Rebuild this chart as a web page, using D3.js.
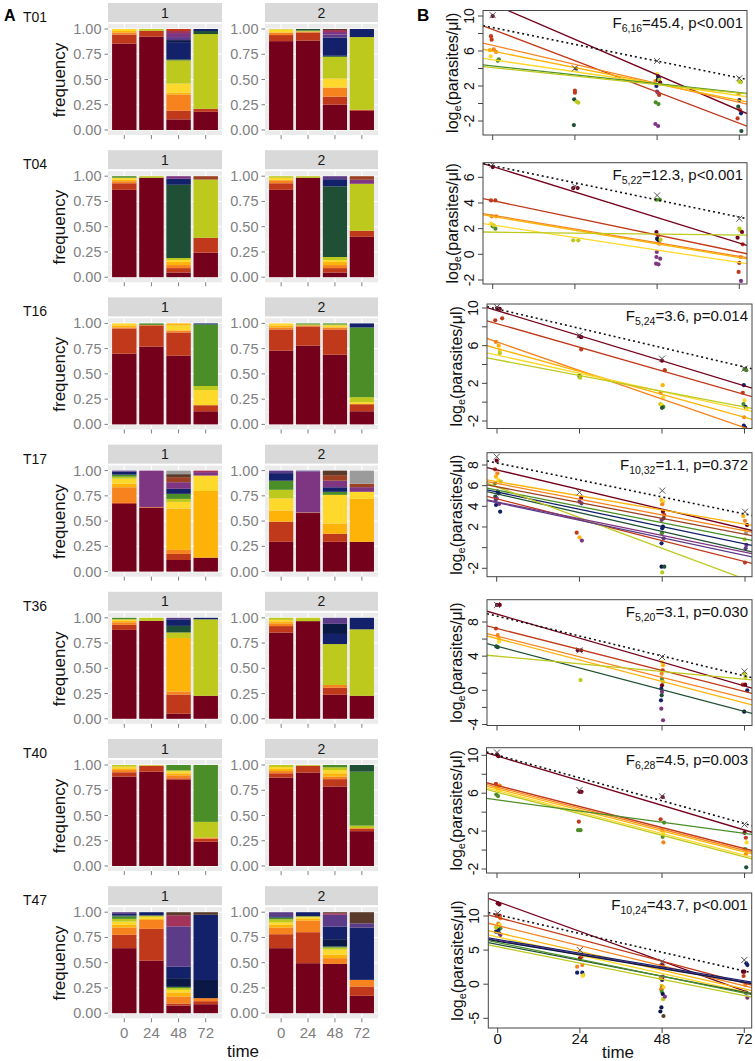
<!DOCTYPE html>
<html><head><meta charset="utf-8">
<script src="https://cdn.jsdelivr.net/npm/d3@7/dist/d3.min.js"></script>
<style>body{margin:0;background:#fff} svg{display:block;font-family:"Liberation Sans",Arial,sans-serif}</style>
</head><body><svg id="c" width="755" height="1061"></svg>
<script>
// ---------------- DATA ----------------
const trials = ["T01","T04","T16","T17","T36","T40","T47"];
const times = [0,24,48,72];
const replicates = ["1","2"];
const cloneColor = {dr:"#75001b", rd:"#c0391a", or:"#f6831e", am:"#feb308", ye:"#fed82b", yg:"#bdc91c",
  gr:"#4b8e27", dg:"#1f5035", nv:"#13206a", dn:"#0a1846", pu:"#7e3582", vi:"#5c3b88", cr:"#a3335b",
  br:"#5a3b2b", rb:"#9c4124", gy:"#9b9b9b"};

// Panel A: clone frequencies, 8 bars per trial (rep1 t0..t72, rep2 t0..t72), segments bottom-up
const freqT01 = [
 [["dr",.855],["rd",.09],["or",.02],["am",.015],["ye",.02]],
 [["dr",.924],["rd",.059],["yg",.017]],
 [["dr",.105],["rd",.085],["or",.16],["am",.02],["ye",.09],["yg",.23],["dg",.01],["nv",.17],["dn",.02],["vi",.03],["pu",.04],["cr",.02],["rd",.02]],
 [["dr",.18],["rd",.03],["yg",.74],["dg",.03],["nv",.02]],
 [["dr",.88],["rd",.06],["or",.025],["ye",.03],["yg",.005]],
 [["dr",.885],["rd",.08],["or",.01],["yg",.01],["dg",.015]],
 [["dr",.25],["rd",.08],["or",.09],["ye",.09],["yg",.215],["dg",.01],["nv",.18],["vi",.03],["pu",.025],["cr",.02],["br",.01]],
 [["dr",.19],["rd",.01],["yg",.72],["nv",.08]]
];
const freqT04 = [
 [["dr",.865],["rd",.065],["or",.02],["am",.015],["ye",.02],["gr",.015]],
 [["dr",.985],["yg",.015]],
 [["dr",.046],["rd",.044],["or",.03],["am",.03],["ye",.02],["yg",.02],["dg",.725],["nv",.06],["pu",.025]],
 [["dr",.243],["rd",.147],["yg",.577],["rb",.033]],
 [["dr",.865],["rd",.065],["or",.03],["ye",.025],["yg",.015]],
 [["dr",.985],["yg",.015]],
 [["dr",.046],["rd",.044],["or",.03],["am",.03],["ye",.02],["yg",.03],["dg",.70],["nv",.07],["vi",.03]],
 [["dr",.40],["rd",.06],["yg",.465],["pu",.04],["rb",.035]]
];
const freqT16 = [
 [["dr",.70],["rd",.25],["or",.01],["am",.02],["ye",.02]],
 [["dr",.77],["rd",.21],["or",.005],["gr",.015]],
 [["dr",.68],["rd",.23],["or",.02],["ye",.05],["am",.02]],
 [["dr",.13],["rd",.06],["ye",.15],["yg",.04],["gr",.61],["nv",.01]],
 [["dr",.73],["rd",.21],["or",.02],["am",.02],["ye",.02]],
 [["dr",.78],["rd",.19],["or",.01],["yg",.01],["gr",.01]],
 [["dr",.69],["rd",.25],["or",.02],["ye",.02],["yg",.01],["gr",.01]],
 [["dr",.13],["rd",.07],["ye",.02],["yg",.05],["gr",.69],["nv",.04]]
];
const freqT17 = [
 [["dr",.67],["rd",.01],["or",.155],["am",.035],["ye",.05],["yg",.02],["gr",.02],["nv",.03],["vi",.01]],
 [["dr",.635],["or",.005],["pu",.36]],
 [["dr",.115],["rd",.06],["or",.04],["am",.41],["ye",.065],["yg",.03],["gr",.05],["nv",.05],["pu",.065],["rb",.05],["br",.03],["gy",.035]],
 [["dr",.138],["am",.66],["ye",.153],["pu",.034],["cr",.015]],
 [["dr",.295],["rd",.2],["am",.11],["ye",.12],["yg",.085],["gr",.09],["nv",.075],["vi",.025]],
 [["dr",.58],["or",.005],["pu",.405],["vi",.01]],
 [["dr",.295],["rd",.08],["am",.1],["ye",.285],["gr",.03],["nv",.045],["pu",.065],["rb",.055],["br",.045]],
 [["dr",.295],["am",.425],["ye",.07],["pu",.046],["rb",.034],["gy",.13]]
];
const freqT36 = [
 [["dr",.88],["rd",.05],["or",.025],["am",.015],["ye",.015],["gr",.015]],
 [["dr",.97],["yg",.03]],
 [["dr",.05],["rd",.19],["or",.03],["am",.53],["yg",.055],["dg",.065],["nv",.065],["vi",.015]],
 [["dr",.228],["yg",.757],["nv",.015]],
 [["dr",.853],["rd",.065],["or",.027],["am",.02],["ye",.015],["yg",.02]],
 [["dr",.967],["yg",.033]],
 [["dr",.238],["rd",.07],["or",.027],["yg",.405],["nv",.1],["dn",.1],["vi",.06]],
 [["dr",.228],["yg",.658],["nv",.114]]
];
const freqT40 = [
 [["dr",.885],["rd",.043],["or",.022],["am",.017],["ye",.017],["yg",.016]],
 [["dr",.934],["rd",.056],["or",.005],["yg",.005]],
 [["dr",.853],["rd",.015],["or",.03],["am",.02],["ye",.02],["yg",.01],["gr",.052]],
 [["dr",.24],["rd",.03],["or",.012],["yg",.155],["gr",.563]],
 [["dr",.875],["rd",.043],["or",.022],["am",.02],["ye",.02],["yg",.02]],
 [["dr",.925],["rd",.068],["yg",.007]],
 [["dr",.787],["rd",.073],["or",.025],["am",.033],["ye",.032],["yg",.027],["gr",.023]],
 [["dr",.345],["rd",.022],["or",.008],["yg",.025],["gr",.534],["dg",.066]]
];
const freqT47 = [
 [["dr",.644],["rd",.132],["or",.072],["am",.027],["ye",.033],["yg",.026],["gr",.023],["dg",.01],["nv",.016],["vi",.017]],
 [["dr",.52],["rd",.315],["or",.089],["am",.01],["ye",.02],["yg",.013],["nv",.033]],
 [["dr",.076],["rd",.02],["or",.07],["am",.04],["ye",.025],["yg",.018],["gr",.012],["dn",.086],["nv",.113],["vi",.4],["cr",.11],["br",.03]],
 [["dr",.089],["rd",.03],["or",.03],["dn",.18],["nv",.645],["br",.026]],
 [["dr",.644],["rd",.138],["or",.066],["am",.027],["ye",.025],["yg",.03],["gr",.017],["nv",.013],["vi",.04]],
 [["dr",.495],["rd",.307],["or",.115],["am",.017],["ye",.016],["yg",.01],["nv",.04]],
 [["dr",.488],["or",.057],["am",.035],["ye",.05],["yg",.02],["gr",.01],["dn",.073],["nv",.125],["vi",.116],["cr",.016],["br",.01]],
 [["dr",.172],["rd",.092],["or",.066],["nv",.518],["vi",.042],["br",.11]]
];

// Panel B: clone regression lines [clone, log value at 0 h, log value at 72 h]
const linesT01 = [["dr",11.38,-0.77],["rd",8.46,-2.25],["or",6.64,0.13],["am",5.98,0.37],["ye",5.0,0.9],["gr",4.29,1.25],["yg",4.1,1.18]];
const linesT04 = [["dr",6.84,0.88],["rd",4.18,0.17],["or",3.04,-0.16],["am",2.95,-0.25],["ye",2.28,-0.64],["yg",1.73,1.5]];
const linesT16 = [["dr",9.73,1.73],["rd",8.34,0.82],["or",6.4,-2.7],["am",5.7,-1.6],["ye",5.0,-0.8],["yg",4.5,-0.5]];
const linesT17 = [["dr",7.53,1.82],["am",6.4,2.27],["or",6.22,1.63],["rd",4.73,-1.35],["gr",5.57,0.83],["dg",5.21,-0.26],["nv",5.39,0.36],["yg",5.89,-3.05],["pu",4.43,-0.44],["vi",4.36,-0.76],["rb",5.9,1.3]];
const linesT36 = [["dr",8.92,0.5],["rd",7.24,-0.13],["or",6.34,-0.9],["am",6.06,-1.48],["dg",5.16,-2.46],["yg",4.0,1.3]];
const linesT40 = [["dr",9.93,2.11],["rd",6.82,0.15],["or",6.64,-0.03],["am",6.47,-0.2],["ye",6.28,-0.55],["yg",6.11,-0.73],["gr",5.3,1.77]];
const linesT47 = [["dr",12.1,-1.0],["rd",9.79,0.16],["or",8.6,-0.23],["am",7.55,-0.7],["ye",6.92,-1.1],["nv",6.55,0.5],["vi",6.4,0.35],["dn",6.3,0.25],["dg",5.83,-1.18],["gr",6.1,-1.3],["yg",5.48,-1.68]];

// total parasitaemia: dotted regression [v0, v72] and "x" marks at 0,24,48,72 h
const totalLine = [[8.67,2.93],[6.91,2.9],[9.9,3.73],[8.2,3.25],[8.69,1.69],[10.03,2.79],[10.18,1.93]];
const totalMarks = [[10.1,4.02,4.86,2.88],[7.0,5.3,4.59,2.78],[10.1,7.1,4.62,3.56],[8.8,5.35,5.52,3.48],[10.0,4.68,3.9,2.22],[10.3,6.32,5.68,2.7],[10.4,5.0,3.3,3.55]];

// clone points [time (jittered), log value, clone]
const pointsT01 = [[0,10,"dr"],[-0.5,7.7,"rd"],[-0.3,7.3,"rd"],[0.3,6.2,"or"],[1,5.9,"or"],[-0.6,5.4,"ye"],[1.8,5.05,"gr"],[1.5,4.9,"gr"],[-0.8,6.1,"am"],
 [24,1.47,"rd"],[24,1.24,"rd"],[23.8,0.48,"dg"],[24.5,0.2,"yg"],[25,0.1,"yg"],[23.7,-2.46,"dg"],[24.3,4.0,"br"],
 [48,3.37,"ye"],[47.5,2.57,"or"],[48.3,3.1,"dn"],[48.5,2.9,"nv"],[48.2,2.7,"dn"],[47.8,2.0,"nv"],[48,1.35,"pu"],[48.4,1.16,"pu"],[48.6,0.97,"rd"],[47.6,0.13,"gr"],[48.4,-0.06,"gr"],[47.5,-2.34,"pu"],[48.3,-2.57,"pu"],[48.6,2.7,"yg"],[48.9,2.38,"dr"],
 [72,2.5,"yg"],[72.5,2.45,"yg"],[71.8,1.09,"or"],[72,0.4,"nv"],[71.7,-0.36,"dg"],[72.2,-0.74,"rd"],[72.5,-1.12,"nv"],[71.5,-1.7,"rd"],[72.6,-3.14,"dg"]];
const pointsT04 = [[0,6.8,"dr"],[-0.5,4.2,"rd"],[0.8,4.2,"rd"],[-0.3,2.96,"or"],[1,2.96,"or"],[-0.5,2.39,"ye"],[0,2.18,"gr"],[0.8,2.0,"gr"],[0.3,2.26,"yg"],
 [23.5,5.16,"dr"],[24.8,5.16,"dr"],[23.5,1.09,"yg"],[25,1.09,"yg"],
 [47.8,4.25,"gr"],[48.8,4.25,"gr"],[47.8,1.74,"dr"],[48.3,1.48,"rd"],[48,1.22,"nv"],[48.5,1.1,"nv"],[48.2,1.15,"dn"],[48.6,0.83,"or"],[49,1.14,"yg"],[47.9,0.18,"pu"],[47.8,-0.21,"pu"],[48.9,-0.34,"pu"],[47.7,-0.73,"pu"],[48.4,-0.78,"pu"],
 [72,2.0,"yg"],[72.3,1.87,"yg"],[71.5,1.3,"dr"],[72.8,1.74,"dr"],[73,0.78,"rd"],[72.4,-0.21,"or"],[72,-0.67,"rd"],[71.8,-1.37,"rd"],[72.5,-2.07,"pu"]];
const pointsT16 = [[0,10.0,"dr"],[0.8,9.9,"dr"],[-0.5,8.7,"rd"],[1.5,8.9,"rd"],[-0.3,6.4,"or"],[0.5,6.0,"am"],[0.8,5.5,"ye"],[0.8,5.2,"yg"],
 [24,7.0,"dr"],[24.5,6.9,"dr"],[24.5,5.6,"rd"],[24,2.85,"gr"],[24,2.7,"gr"],[24.2,2.6,"yg"],
 [48,4.4,"dr"],[48.8,3.4,"rd"],[48.2,1.8,"am"],[47.6,1.0,"or"],[48.3,0.5,"ye"],[47.5,-0.2,"yg"],[48,-0.3,"ye"],[48.4,-0.5,"gr"],[48,-0.6,"dg"],
 [72,3.5,"gr"],[72.5,3.4,"gr"],[71.8,1.8,"nv"],[71.5,1.0,"rd"],[72,0.2,"ye"],[71.7,-0.2,"gr"],[72.3,-0.5,"nv"],[72.6,-0.7,"ye"],[71.9,-1.6,"or"],[71.8,-2.5,"nv"],[72.2,-2.7,"nv"]];
const pointsT17 = [[0,8.42,"dr"],[-0.5,7.58,"rd"],[0.2,7.2,"or"],[-0.2,6.87,"am"],[0.5,6.55,"ye"],[1.2,6.39,"yg"],[-0.5,6.23,"gr"],[0.3,5.42,"dn"],[0.5,5.26,"nv"],[-0.4,4.94,"dg"],[0,4.77,"pu"],[-0.3,4.61,"vi"],[0.7,4.23,"pu"],[-0.2,4.13,"nv"],[1,3.48,"nv"],
 [24.5,4.84,"dr"],[24,4.45,"pu"],[24.6,4.29,"vi"],[23.2,1.45,"rd"],[24,1.0,"am"],[24.7,0.68,"pu"],
 [47.8,4.6,"am"],[48.3,4.45,"ye"],[48,4.2,"or"],[48.2,3.48,"dr"],[48.6,3.16,"rd"],[48.4,2.84,"br"],[47.8,2.68,"pu"],[48.2,2.03,"dn"],[48,1.87,"nv"],[47.9,1.39,"gr"],[48.4,0.9,"pu"],[47.8,0.42,"nv"],[47.8,-1.84,"dn"],[48.6,-1.84,"dg"],[48,-2.4,"yg"],
 [71.5,3.06,"am"],[72,2.6,"or"],[72.6,2.19,"dr"],[72,1.7,"ye"],[72.3,1.39,"gy"],[71.9,0.8,"yg"],[72.4,0.26,"pu"],[72.2,-0.06,"vi"],[72,-1.45,"rd"]];
const pointsT36 = [[0,10,"dr"],[0.8,10,"dr"],[-0.3,7.24,"rd"],[0.2,6.48,"or"],[0.5,6.1,"am"],[0.6,5.7,"ye"],[-0.2,5.14,"dg"],[0.2,5.05,"dg"],
 [23.5,4.68,"dr"],[24.5,4.68,"dr"],[24.3,1.2,"yg"],
 [48,3.31,"ye"],[48.3,2.93,"am"],[48.2,2.34,"rd"],[47.9,1.95,"or"],[48,1.37,"gr"],[48.3,0.98,"yg"],[48,0.59,"dr"],[47.8,0.2,"nv"],[48,-0.19,"pu"],[47.9,-0.58,"dg"],[47.7,-1.17,"nv"],[47.8,-2.15,"pu"],[48.3,-3.5,"pu"],
 [72,1.95,"yg"],[72.3,1.56,"yg"],[71.5,0.66,"rd"],[72.2,0.66,"dr"],[72.8,0.0,"nv"],[71.9,-2.5,"dn"]];
const pointsT40 = [[0,10.1,"dr"],[0.4,9.9,"dr"],[-0.3,7.0,"rd"],[0.8,6.8,"or"],[0,6.55,"am"],[0.6,6.3,"ye"],[-0.2,5.85,"gr"],[0.3,5.7,"gr"],
 [24,6.14,"dr"],[24.6,6.14,"dr"],[23.8,3.0,"rd"],[23.6,2.1,"gr"],[24.3,2.1,"gr"],
 [48.2,5.6,"dr"],[47.6,3.25,"rd"],[48.6,2.9,"gr"],[48,2.1,"or"],[48.4,1.75,"ye"],[48.2,1.4,"gr"],[48.4,0.8,"or"],
 [72,1.82,"dr"],[72.4,1.3,"rd"],[72.6,0.8,"ye"],[72.2,0.1,"gr"],[72.4,-0.45,"or"],[72.6,-0.1,"am"],[72.5,-1.82,"dg"]];
const pointsT47 = [[0,11.86,"dr"],[0.5,11.7,"dr"],[-0.3,10.15,"rd"],[0.6,10.05,"rd"],[0.8,9.66,"or"],[0.2,8.9,"or"],[0.6,8.7,"ye"],[-0.3,8.4,"am"],[0.8,8.2,"gr"],[-0.5,7.7,"dn"],[0.8,7.2,"pu"],[0.5,7.46,"vi"],[0.2,7.95,"nv"],[-0.5,8.3,"yg"],
 [24,3.8,"dr"],[24.5,4.04,"rd"],[23.2,2.57,"or"],[24.7,2.8,"or"],[23.2,1.69,"nv"],[24.7,1.69,"nv"],[25,1.35,"yg"],[24.8,1.2,"ye"],
 [48,2.81,"dr"],[48.3,2.57,"rd"],[48.2,1.1,"pu"],[48,0.62,"nv"],[47.6,0.86,"or"],[47.9,-0.26,"am"],[48.2,-0.46,"gr"],[48,-0.6,"dg"],[48.4,-0.46,"ye"],[47.7,-0.75,"or"],[47.9,-1.1,"gr"],[48.2,-1.44,"dn"],[48.3,-2.2,"yg"],[48.8,-1.83,"pu"],[47.8,-3.4,"dn"],[47.5,-4.0,"dn"],[48.4,-4.66,"br"],
 [72.6,3.06,"nv"],[72.9,2.8,"nv"],[71.6,1.84,"dr"],[72,1.84,"dr"],[71.8,1.2,"rd"],[72.3,-0.12,"or"],[72.5,-1.24,"dn"],[72.9,-1.97,"pu"]];

// F statistics [df, F, p]
const fStats = [["6,16","45.4","p<0.001"],["5,22","12.3","p<0.001"],["5,24","3.6","p=0.014"],["10,32","1.1","p=0.372"],["5,20","3.1","p=0.030"],["6,28","4.5","p=0.003"],["10,24","43.7","p<0.001"]];
// y tick values and labelled ticks for panel B
const bTicks = [[-2,0,2,4,6,8,10],[-2,0,2,4,6],[-2,0,2,4,6,8,10],[-2,0,2,4,6,8],[-4,-2,0,2,4,6,8],[-2,0,2,4,6,8,10],[-5,0,5,10]];
const bTickLabels = [[10,6,2,-2],[6,4,2,0,-2],[10,6,2,-2],[8,6,4,2,-2],[8,4,0,-4],[10,6,2,-2],[10,5,0,-5]];

const freqs = [freqT01,freqT04,freqT16,freqT17,freqT36,freqT40,freqT47];
const lines = [linesT01,linesT04,linesT16,linesT17,linesT36,linesT40,linesT47];
const points = [pointsT01,pointsT04,pointsT16,pointsT17,pointsT36,pointsT40,pointsT47];

// ---------------- LAYOUT ----------------
const rowH = 147.2;
const panelAX = [[108,222],[265,378]];
// panel B boxes: left,right, x(0),x(72), top,bottom, [value,px],[value,px]
const boxB = [
 {l:483,r:747,x0:492.7,x72:739.3,t:10.5,b:135,ya:[10,16],yb:[-2,121]},
 {l:483,r:747,x0:492.7,x72:739.3,t:162.7,b:284,ya:[6,177.3],yb:[-2,280]},
 {l:487,r:752,x0:497,x72:744.5,t:304,b:428.5,ya:[10,308],yb:[-2,421]},
 {l:487,r:752,x0:496.7,x72:745,t:452.7,b:576.7,ya:[8,465],yb:[-2,568.3]},
 {l:487,r:752,x0:497,x72:744.5,t:599.7,b:725.5,ya:[8,622],yb:[-4,724.5]},
 {l:486.5,r:752,x0:497,x72:744.5,t:747.7,b:873,ya:[10,755.3],yb:[-2,869]},
 {l:488.3,r:751.7,x0:497.7,x72:744.3,t:893,b:1028,ya:[10,916],yb:[-5,1018.3]}
];

const svg = d3.select("#c");
const defs = svg.append("defs");
const grey = "#7f7f7f";

svg.append("text").attr("x",4).attr("y",21).attr("font-size",16).attr("font-weight","bold").text("A");
svg.append("text").attr("x",417).attr("y",21).attr("font-size",17).attr("font-weight","bold").text("B");

trials.forEach((trial, r) => {
  const off = r*rowH;
  const y = d3.scaleLinear().domain([0,1]).range([130+off, 29+off]);
  svg.append("text").attr("x",23).attr("y",22+off).attr("font-size",14).attr("fill","#111").text(trial);
  svg.append("text").attr("transform",`translate(65,${80+off}) rotate(-90)`).attr("text-anchor","middle")
     .attr("font-size",17).attr("fill","#111").text("frequency");

  replicates.forEach((rep, k) => {
    const [x0,x1] = panelAX[k];
    const x = d3.scaleBand().domain(times).range([x0,x1]).paddingInner(0.1).paddingOuter(0.15);
    const g = svg.append("g");
    g.append("rect").attr("x",x0).attr("y",3+off).attr("width",x1-x0).attr("height",19).attr("fill","#d9d9d9");
    g.append("text").attr("x",(x0+x1)/2).attr("y",17.5+off).attr("text-anchor","middle").attr("font-size",14).attr("fill","#1a1a1a").text(rep);
    const pTop = y(1.05), pBot = y(-0.05);
    g.append("rect").attr("x",x0).attr("y",pTop).attr("width",x1-x0).attr("height",pBot-pTop).attr("fill","#ebebeb");
    [0.125,0.375,0.625,0.875].forEach(v => g.append("line").attr("x1",x0).attr("x2",x1).attr("y1",y(v)).attr("y2",y(v)).attr("stroke","#f5f5f5").attr("stroke-width",0.6));
    [0,0.25,0.5,0.75,1].forEach(v => g.append("line").attr("x1",x0).attr("x2",x1).attr("y1",y(v)).attr("y2",y(v)).attr("stroke","#fff").attr("stroke-width",1.1));
    times.forEach(t => {
      const cx = x(t)+x.bandwidth()/2;
      g.append("line").attr("x1",cx).attr("x2",cx).attr("y1",pTop).attr("y2",pBot).attr("stroke","#fff").attr("stroke-width",1.1);
      g.append("line").attr("x1",cx).attr("x2",cx).attr("y1",pBot).attr("y2",pBot+4).attr("stroke",grey).attr("stroke-width",1);
    });
    times.forEach((t,i) => {
      let cum = 0;
      freqs[r][k*4+i].forEach(([c,f]) => {
        g.append("rect").attr("x",x(t)).attr("width",x.bandwidth())
         .attr("y",y(cum+f)).attr("height",y(cum)-y(cum+f)).attr("fill",cloneColor[c]);
        cum += f;
      });
    });
    [0,0.25,0.5,0.75,1].forEach(v => {
      g.append("line").attr("x1",x0-3.5).attr("x2",x0).attr("y1",y(v)).attr("y2",y(v)).attr("stroke",grey);
      g.append("text").attr("x",x0-6.5).attr("y",y(v)+5).attr("text-anchor","end").attr("font-size",14.5).attr("fill",grey).text(d3.format(".2f")(v));
    });
    if (r === trials.length-1) {
      times.forEach(t => g.append("text").attr("x",x(t)+x.bandwidth()/2).attr("y",pBot+20).attr("text-anchor","middle")
         .attr("font-size",15).attr("fill",grey).text(t));
    }
  });
  if (r === trials.length-1) svg.append("text").attr("x",243).attr("y",1057).attr("text-anchor","middle").attr("font-size",17).attr("fill","#111").text("time");

  // ---- panel B ----
  const L = boxB[r];
  const bx = d3.scaleLinear().domain([0,72]).range([L.x0,L.x72]);
  const by = d3.scaleLinear().domain([L.ya[0],L.yb[0]]).range([L.ya[1],L.yb[1]]);
  const cid = "clip"+r;
  defs.append("clipPath").attr("id",cid).append("rect").attr("x",L.l).attr("y",L.t).attr("width",L.r-L.l).attr("height",L.b-L.t);
  const gb = svg.append("g");
  const inner = gb.append("g").attr("clip-path",`url(#${cid})`);
  points[r].forEach(([t,v,c]) => inner.append("circle").attr("cx",bx(t)).attr("cy",by(v)).attr("r",2.1).attr("fill",cloneColor[c]));
  const tmin = bx.invert(L.l), tmax = bx.invert(L.r);
  const lineAt = (v0,v72,t) => v0 + (v72-v0)*t/72;
  lines[r].forEach(([c,v0,v72]) => inner.append("line")
    .attr("x1",bx(tmin)).attr("y1",by(lineAt(v0,v72,tmin))).attr("x2",bx(tmax)).attr("y2",by(lineAt(v0,v72,tmax)))
    .attr("stroke",cloneColor[c]).attr("stroke-width",1.3));
  const [tv0,tv72] = totalLine[r];
  inner.append("line").attr("x1",bx(tmin)).attr("y1",by(lineAt(tv0,tv72,tmin))).attr("x2",bx(tmax)).attr("y2",by(lineAt(tv0,tv72,tmax)))
    .attr("stroke","#111").attr("stroke-width",1.6).attr("stroke-dasharray","2,3");
  totalMarks[r].forEach((v,i) => {
    const cx = bx(times[i]), cy = by(v), s = 3;
    inner.append("path").attr("d",`M${cx-s},${cy-s}L${cx+s},${cy+s}M${cx-s},${cy+s}L${cx+s},${cy-s}`).attr("stroke","#555").attr("stroke-width",1);
  });
  gb.append("rect").attr("x",L.l).attr("y",L.t).attr("width",L.r-L.l).attr("height",L.b-L.t).attr("fill","none").attr("stroke","#444").attr("stroke-width",1);
  bTicks[r].forEach(v => gb.append("line").attr("x1",L.l-5).attr("x2",L.l).attr("y1",by(v)).attr("y2",by(v)).attr("stroke","#444"));
  bTickLabels[r].forEach(v => gb.append("text").attr("transform",`translate(${L.l-9},${by(v)}) rotate(-90)`)
     .attr("text-anchor","middle").attr("font-size",14).attr("fill","#111").text(v));
  times.forEach(t => gb.append("line").attr("x1",bx(t)).attr("x2",bx(t)).attr("y1",L.b).attr("y2",L.b+5).attr("stroke","#444"));
  if (r === trials.length-1) {
    times.forEach(t => gb.append("text").attr("x",bx(t)).attr("y",L.b+16).attr("text-anchor","middle").attr("font-size",15).attr("fill","#111").text(t));
    gb.append("text").attr("x",618).attr("y",1058).attr("text-anchor","middle").attr("font-size",17).attr("fill","#111").text("time");
  }
  const yt = gb.append("text").attr("transform",`translate(${L.l-25},${(L.t+L.b)/2}) rotate(-90)`).attr("text-anchor","middle").attr("font-size",16).attr("fill","#111");
  yt.append("tspan").text("log");
  yt.append("tspan").attr("font-size",11).attr("dy",3).text("e");
  yt.append("tspan").attr("dy",-3).text("(parasites/μl)");
  const [df,F,p] = fStats[r];
  const ft = gb.append("text").attr("x",L.r-4).attr("y",L.t+17).attr("text-anchor","end").attr("font-size",15).attr("fill","#111");
  ft.append("tspan").text("F");
  ft.append("tspan").attr("font-size",10.5).attr("dy",4).text(df);
  ft.append("tspan").attr("dy",-4).text("=" + F + ", " + p);
});
</script></body></html>
